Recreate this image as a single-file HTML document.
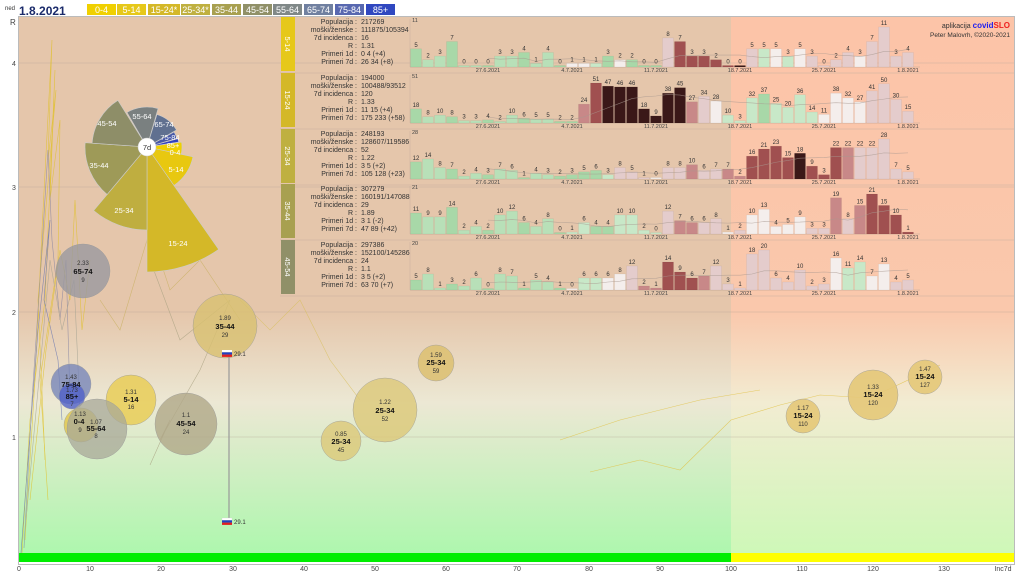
<!DOCTYPE html>
<html><head><meta charset="utf-8">
<style>
html,body{margin:0;padding:0;background:#fff;}
svg{display:block;font-family:"Liberation Sans",sans-serif;}
.lg{font-size:9px;fill:#fff;text-anchor:middle;}
.pt{font-size:7px;fill:#333;}
.bl{font-size:6px;fill:#333;text-anchor:middle;}
.dt{font-size:5.5px;fill:#444;text-anchor:middle;}
.ax{font-size:7px;fill:#444;text-anchor:middle;}
.wl{font-size:7.5px;fill:#fff;text-anchor:middle;}
.bt{font-size:6px;fill:#333;text-anchor:middle;}
.bb{font-size:7.5px;fill:#111;text-anchor:middle;font-weight:bold;}
</style></head><body>
<svg id="s" width="1024" height="576" viewBox="0 0 1024 576" xmlns="http://www.w3.org/2000/svg">
<defs>
<linearGradient id="gl" x1="0" y1="0" x2="0" y2="1">
<stop offset="0" stop-color="#e5c6ab"/><stop offset="0.55" stop-color="#e5c6ab"/>
<stop offset="0.72" stop-color="#ece8d4"/><stop offset="1" stop-color="#aef7ae"/></linearGradient>
<linearGradient id="gr" x1="0" y1="0" x2="0" y2="1">
<stop offset="0" stop-color="#fcc4a8"/><stop offset="0.55" stop-color="#fac8ac"/>
<stop offset="0.72" stop-color="#f2ecd2"/><stop offset="1" stop-color="#cef8b8"/></linearGradient>
</defs>
<rect x="0" y="0" width="1024" height="576" fill="#fff"/>
<rect x="19" y="17" width="712" height="536" fill="url(#gl)"/>
<rect x="731" y="17" width="283" height="536" fill="url(#gr)"/>
<rect x="18.5" y="16.5" width="996" height="548" fill="none" stroke="#bbb" stroke-width="1"/>
<rect x="19" y="553" width="712" height="9" fill="#00ee00"/>
<rect x="731" y="553" width="283" height="9" fill="#ffff00"/>
<g stroke="#b8a898" stroke-width="0.6" opacity="0.7">
<line x1="19" y1="437" x2="1014" y2="437"/><line x1="19" y1="312" x2="1014" y2="312"/>
<line x1="19" y1="187" x2="1014" y2="187"/><line x1="19" y1="63" x2="1014" y2="63"/>
</g>
<!-- header -->
<text x="5" y="10" font-size="6" fill="#333">ned</text>
<text x="19" y="15" font-size="12" font-weight="bold" fill="#1a2a6a">1.8.2021</text>
<g>
<rect x="87" y="4" width="29" height="11" fill="#f0d000"/><text class="lg" x="101.5" y="13">0-4</text>
<rect x="117" y="4" width="29" height="11" fill="#e6c81a"/><text class="lg" x="131.5" y="13">5-14</text>
<rect x="148" y="4" width="32" height="11" fill="#d4b828"/><text class="lg" x="164" y="13">15-24*</text>
<rect x="181" y="4" width="29" height="11" fill="#bfb040"/><text class="lg" x="195.5" y="13">25-34*</text>
<rect x="212" y="4" width="29" height="11" fill="#a8a050"/><text class="lg" x="226.5" y="13">35-44</text>
<rect x="243" y="4" width="29" height="11" fill="#909068"/><text class="lg" x="257.5" y="13">45-54</text>
<rect x="273" y="4" width="29" height="11" fill="#808888"/><text class="lg" x="287.5" y="13">55-64</text>
<rect x="304" y="4" width="29" height="11" fill="#7080a0"/><text class="lg" x="318.5" y="13">65-74</text>
<rect x="335" y="4" width="29" height="11" fill="#5868b0"/><text class="lg" x="349.5" y="13">75-84</text>
<rect x="366" y="4" width="29" height="11" fill="#3048c0"/><text class="lg" x="380.5" y="13">85+</text>
</g>
<text x="1010" y="28" font-size="7" fill="#333" text-anchor="end">aplikacija <tspan fill="#2020ee" font-weight="bold" font-size="8">covid</tspan><tspan fill="#ee2020" font-weight="bold" font-size="8">SLO</tspan></text>
<text x="1010" y="37" font-size="6.5" fill="#333" text-anchor="end">Peter Malovrh, ©2020-2021</text>
<!-- axes labels -->
<text x="10" y="25" font-size="8" fill="#444">R</text>
<text x="12" y="66" font-size="7" fill="#444">4</text>
<text x="12" y="190" font-size="7" fill="#444">3</text>
<text x="12" y="315" font-size="7" fill="#444">2</text>
<text x="12" y="440" font-size="7" fill="#444">1</text>
<g>
<text class="ax" x="19" y="571">0</text><text class="ax" x="90" y="571">10</text><text class="ax" x="161" y="571">20</text>
<text class="ax" x="233" y="571">30</text><text class="ax" x="304" y="571">40</text><text class="ax" x="375" y="571">50</text>
<text class="ax" x="446" y="571">60</text><text class="ax" x="517" y="571">70</text><text class="ax" x="589" y="571">80</text>
<text class="ax" x="660" y="571">90</text><text class="ax" x="731" y="571">100</text><text class="ax" x="802" y="571">110</text>
<text class="ax" x="873" y="571">120</text><text class="ax" x="944" y="571">130</text><text class="ax" x="1003" y="571">Inc7d</text>
</g>
<!-- trails -->
<g fill="none" stroke-width="0.6" opacity="0.75">
<polyline stroke="#e0c020" points="22,553 30,420 45,300 55,70 50,200 60,120 58,260 40,380 48,500"/>
<polyline stroke="#e0c020" points="25,540 35,380 42,230 52,40 48,160 56,90 38,300 45,460"/>
<polyline stroke="#6070b0" points="21,553 28,460 38,330 50,220 44,300 58,360 62,420"/>
<polyline stroke="#8080a0" points="24,548 32,400 40,280 48,150 52,240 60,320 66,260 70,400"/>
<polyline stroke="#a0a090" points="26,520 38,390 50,260 62,330 74,280 80,410"/>
<polyline stroke="#e0c020" points="30,500 46,350 60,250 70,300 75,200 82,330 90,260"/>
<polyline stroke="#a8a080" points="150,465 170,420 160,440 200,370 230,300 180,340 150,260"/>
<polyline stroke="#c8b060" points="240,320 200,260 170,290 150,230 120,330 100,300"/>
<polyline stroke="#d8c060" points="360,400 330,360 300,300 270,330 240,300"/>
<polyline stroke="#e0c040" points="590,472 640,460 680,470 731,420 780,405 820,395 870,398 940,365"/>
<polyline stroke="#e0c040" points="560,440 620,420 700,400 760,390"/>
</g>
<!-- panels -->
<g id="panels"></g>
<g id="ptext">
<g id="pl0"><text>5</text><text>2</text><text>3</text><text>7</text><text>0</text><text>0</text><text>0</text><text>3</text><text>3</text><text>4</text><text>1</text><text>4</text><text>0</text><text>1</text><text>1</text><text>1</text><text>3</text><text>2</text><text>2</text><text>0</text><text>0</text><text>8</text><text>7</text><text>3</text><text>3</text><text>2</text><text>0</text><text>0</text><text>5</text><text>5</text><text>5</text><text>3</text><text>5</text><text>3</text><text>0</text><text>2</text><text>4</text><text>3</text><text>7</text><text>11</text><text>3</text><text>4</text></g>
<g id="pl1"><text>18</text><text>8</text><text>10</text><text>8</text><text>3</text><text>3</text><text>4</text><text>2</text><text>10</text><text>6</text><text>5</text><text>5</text><text>2</text><text>2</text><text>24</text><text>51</text><text>47</text><text>46</text><text>46</text><text>18</text><text>9</text><text>38</text><text>45</text><text>27</text><text>34</text><text>28</text><text>10</text><text>3</text><text>32</text><text>37</text><text>25</text><text>20</text><text>36</text><text>14</text><text>11</text><text>38</text><text>32</text><text>27</text><text>41</text><text>50</text><text>30</text><text>15</text></g>
<g id="pl2"><text>12</text><text>14</text><text>8</text><text>7</text><text>2</text><text>4</text><text>3</text><text>7</text><text>6</text><text>1</text><text>4</text><text>3</text><text>2</text><text>3</text><text>5</text><text>6</text><text>3</text><text>8</text><text>5</text><text>1</text><text>0</text><text>8</text><text>8</text><text>10</text><text>6</text><text>7</text><text>7</text><text>2</text><text>16</text><text>21</text><text>23</text><text>15</text><text>18</text><text>9</text><text>3</text><text>22</text><text>22</text><text>22</text><text>22</text><text>28</text><text>7</text><text>5</text></g>
<g id="pl3"><text>11</text><text>9</text><text>9</text><text>14</text><text>2</text><text>4</text><text>2</text><text>10</text><text>12</text><text>6</text><text>4</text><text>8</text><text>0</text><text>1</text><text>6</text><text>4</text><text>4</text><text>10</text><text>10</text><text>2</text><text>0</text><text>12</text><text>7</text><text>6</text><text>6</text><text>8</text><text>1</text><text>2</text><text>10</text><text>13</text><text>4</text><text>5</text><text>9</text><text>3</text><text>3</text><text>19</text><text>8</text><text>15</text><text>21</text><text>15</text><text>10</text><text>1</text></g>
<g id="pl4"><text>5</text><text>8</text><text>1</text><text>3</text><text>2</text><text>6</text><text>0</text><text>8</text><text>7</text><text>1</text><text>5</text><text>4</text><text>1</text><text>0</text><text>6</text><text>6</text><text>6</text><text>8</text><text>12</text><text>2</text><text>1</text><text>14</text><text>9</text><text>6</text><text>7</text><text>12</text><text>3</text><text>1</text><text>18</text><text>20</text><text>6</text><text>4</text><text>10</text><text>2</text><text>3</text><text>16</text><text>11</text><text>14</text><text>7</text><text>13</text><text>4</text><text>5</text></g>
</g>
<g id="info">
<g transform="translate(0,67)">
<rect x="281" y="-50" width="14" height="54" fill="#e6c81a"/><text class="wl" transform="translate(285,-23) rotate(90)">5-14</text>
<text class="pt" x="357" y="-43" text-anchor="end">Populacija :</text><text class="pt" x="361" y="-43">217269</text>
<text class="pt" x="357" y="-35" text-anchor="end">moški/ženske :</text><text class="pt" x="361" y="-35">111875/105394</text>
<text class="pt" x="357" y="-27" text-anchor="end">7d incidenca :</text><text class="pt" x="361" y="-27">16</text>
<text class="pt" x="357" y="-19" text-anchor="end">R :</text><text class="pt" x="361" y="-19">1.31</text>
<text class="pt" x="357" y="-11" text-anchor="end">Primeri 1d :</text><text class="pt" x="361" y="-11">0 4 (+4)</text>
<text class="pt" x="357" y="-3" text-anchor="end">Primeri 7d :</text><text class="pt" x="361" y="-3">26 34 (+8)</text>
<text class="dt" x="415" y="-45" fill="#999">11</text>
</g>
<g transform="translate(0,123)">
<rect x="281" y="-50" width="14" height="54" fill="#d4b828"/><text class="wl" transform="translate(285,-23) rotate(90)">15-24</text>
<text class="pt" x="357" y="-43" text-anchor="end">Populacija :</text><text class="pt" x="361" y="-43">194000</text>
<text class="pt" x="357" y="-35" text-anchor="end">moški/ženske :</text><text class="pt" x="361" y="-35">100488/93512</text>
<text class="pt" x="357" y="-27" text-anchor="end">7d incidenca :</text><text class="pt" x="361" y="-27">120</text>
<text class="pt" x="357" y="-19" text-anchor="end">R :</text><text class="pt" x="361" y="-19">1.33</text>
<text class="pt" x="357" y="-11" text-anchor="end">Primeri 1d :</text><text class="pt" x="361" y="-11">11 15 (+4)</text>
<text class="pt" x="357" y="-3" text-anchor="end">Primeri 7d :</text><text class="pt" x="361" y="-3">175 233 (+58)</text>
<text class="dt" x="415" y="-45" fill="#999">51</text>
</g>
<g transform="translate(0,179)">
<rect x="281" y="-50" width="14" height="54" fill="#bfb040"/><text class="wl" transform="translate(285,-23) rotate(90)">25-34</text>
<text class="pt" x="357" y="-43" text-anchor="end">Populacija :</text><text class="pt" x="361" y="-43">248193</text>
<text class="pt" x="357" y="-35" text-anchor="end">moški/ženske :</text><text class="pt" x="361" y="-35">128607/119586</text>
<text class="pt" x="357" y="-27" text-anchor="end">7d incidenca :</text><text class="pt" x="361" y="-27">52</text>
<text class="pt" x="357" y="-19" text-anchor="end">R :</text><text class="pt" x="361" y="-19">1.22</text>
<text class="pt" x="357" y="-11" text-anchor="end">Primeri 1d :</text><text class="pt" x="361" y="-11">3 5 (+2)</text>
<text class="pt" x="357" y="-3" text-anchor="end">Primeri 7d :</text><text class="pt" x="361" y="-3">105 128 (+23)</text>
<text class="dt" x="415" y="-45" fill="#999">28</text>
</g>
<g transform="translate(0,234)">
<rect x="281" y="-50" width="14" height="54" fill="#a8a050"/><text class="wl" transform="translate(285,-23) rotate(90)">35-44</text>
<text class="pt" x="357" y="-43" text-anchor="end">Populacija :</text><text class="pt" x="361" y="-43">307279</text>
<text class="pt" x="357" y="-35" text-anchor="end">moški/ženske :</text><text class="pt" x="361" y="-35">160191/147088</text>
<text class="pt" x="357" y="-27" text-anchor="end">7d incidenca :</text><text class="pt" x="361" y="-27">29</text>
<text class="pt" x="357" y="-19" text-anchor="end">R :</text><text class="pt" x="361" y="-19">1.89</text>
<text class="pt" x="357" y="-11" text-anchor="end">Primeri 1d :</text><text class="pt" x="361" y="-11">3 1 (-2)</text>
<text class="pt" x="357" y="-3" text-anchor="end">Primeri 7d :</text><text class="pt" x="361" y="-3">47 89 (+42)</text>
<text class="dt" x="415" y="-45" fill="#999">21</text>
</g>
<g transform="translate(0,290)">
<rect x="281" y="-50" width="14" height="54" fill="#909068"/><text class="wl" transform="translate(285,-23) rotate(90)">45-54</text>
<text class="pt" x="357" y="-43" text-anchor="end">Populacija :</text><text class="pt" x="361" y="-43">297386</text>
<text class="pt" x="357" y="-35" text-anchor="end">moški/ženske :</text><text class="pt" x="361" y="-35">152100/145286</text>
<text class="pt" x="357" y="-27" text-anchor="end">7d incidenca :</text><text class="pt" x="361" y="-27">24</text>
<text class="pt" x="357" y="-19" text-anchor="end">R :</text><text class="pt" x="361" y="-19">1.1</text>
<text class="pt" x="357" y="-11" text-anchor="end">Primeri 1d :</text><text class="pt" x="361" y="-11">3 5 (+2)</text>
<text class="pt" x="357" y="-3" text-anchor="end">Primeri 7d :</text><text class="pt" x="361" y="-3">63 70 (+7)</text>
<text class="dt" x="415" y="-45" fill="#999">20</text>
</g>
</g>
<g id="dates">
<g transform="translate(0,72)"><text class="dt" x="488">27.6.2021</text><text class="dt" x="572">4.7.2021</text><text class="dt" x="656">11.7.2021</text><text class="dt" x="740">18.7.2021</text><text class="dt" x="824">25.7.2021</text><text class="dt" x="908">1.8.2021</text></g>
<g transform="translate(0,128)"><text class="dt" x="488">27.6.2021</text><text class="dt" x="572">4.7.2021</text><text class="dt" x="656">11.7.2021</text><text class="dt" x="740">18.7.2021</text><text class="dt" x="824">25.7.2021</text><text class="dt" x="908">1.8.2021</text></g>
<g transform="translate(0,184)"><text class="dt" x="488">27.6.2021</text><text class="dt" x="572">4.7.2021</text><text class="dt" x="656">11.7.2021</text><text class="dt" x="740">18.7.2021</text><text class="dt" x="824">25.7.2021</text><text class="dt" x="908">1.8.2021</text></g>
<g transform="translate(0,239)"><text class="dt" x="488">27.6.2021</text><text class="dt" x="572">4.7.2021</text><text class="dt" x="656">11.7.2021</text><text class="dt" x="740">18.7.2021</text><text class="dt" x="824">25.7.2021</text><text class="dt" x="908">1.8.2021</text></g>
<g transform="translate(0,295)"><text class="dt" x="488">27.6.2021</text><text class="dt" x="572">4.7.2021</text><text class="dt" x="656">11.7.2021</text><text class="dt" x="740">18.7.2021</text><text class="dt" x="824">25.7.2021</text><text class="dt" x="908">1.8.2021</text></g>
</g>
<!-- pie -->
<g id="pie"></g>
<g class="wl">
<text x="107" y="126">45-54</text><text x="142" y="119">55-64</text><text x="164" y="127">65-74</text>
<text x="170" y="140">75-84</text><text x="173" y="148">85+</text><text x="175" y="155">0-4</text>
<text x="176" y="172">5-14</text><text x="178" y="246">15-24</text><text x="124" y="213">25-34</text><text x="99" y="168">35-44</text>
</g>
<circle cx="147" cy="147" r="9" fill="#fff" stroke="#ccc" stroke-width="0.5"/>
<text x="147" y="150" font-size="7.5" fill="#333" text-anchor="middle">7d</text>
<!-- bubbles -->
<g stroke="#999" stroke-width="0.4">
<circle cx="83" cy="271" r="27" fill="#9a98a0" fill-opacity="0.8"/>
<circle cx="71" cy="384" r="20" fill="#7080b8" fill-opacity="0.75"/>
<circle cx="72" cy="396" r="13" fill="#5060c8" fill-opacity="0.8"/>
<circle cx="131" cy="400" r="25" fill="#e8cc50" fill-opacity="0.8"/>
<circle cx="81" cy="425" r="17" fill="#e0c850" fill-opacity="0.85"/>
<circle cx="97" cy="429" r="30" fill="#a8a898" fill-opacity="0.75"/>
<circle cx="186" cy="424" r="31" fill="#b0a888" fill-opacity="0.8"/>
<circle cx="225" cy="326" r="32" fill="#d8c070" fill-opacity="0.8"/>
<circle cx="341" cy="441" r="20" fill="#dcc878" fill-opacity="0.8"/>
<circle cx="385" cy="410" r="32" fill="#dcc878" fill-opacity="0.8"/>
<circle cx="436" cy="363" r="18" fill="#dcc070" fill-opacity="0.85"/>
<circle cx="803" cy="416" r="17" fill="#e4c878" fill-opacity="0.9"/>
<circle cx="873" cy="395" r="25" fill="#e4c878" fill-opacity="0.9"/>
<circle cx="925" cy="377" r="17" fill="#e4c878" fill-opacity="0.9"/>
</g>
<g>
<text class="bt" x="83" y="265">2.33</text><text class="bb" x="83" y="274">65-74</text><text class="bt" x="83" y="282">9</text>
<text class="bt" x="71" y="379">1.43</text><text class="bb" x="71" y="387">75-84</text>
<text class="bt" x="72" y="392">1.73</text><text class="bb" x="72" y="399">85+</text><text class="bt" x="72" y="406">7</text>
<text class="bt" x="131" y="394">1.31</text><text class="bb" x="131" y="402">5-14</text><text class="bt" x="131" y="409">16</text>
<text class="bt" x="80" y="416">1.13</text><text class="bb" x="79" y="424">0-4</text><text class="bt" x="80" y="432">9</text>
<text class="bt" x="96" y="424">1.07</text><text class="bb" x="96" y="431">55-64</text><text class="bt" x="96" y="438">8</text>
<text class="bt" x="186" y="417">1.1</text><text class="bb" x="186" y="426">45-54</text><text class="bt" x="186" y="434">24</text>
<text class="bt" x="225" y="320">1.89</text><text class="bb" x="225" y="329">35-44</text><text class="bt" x="225" y="337">29</text>
<text class="bt" x="341" y="436">0.85</text><text class="bb" x="341" y="444">25-34</text><text class="bt" x="341" y="452">45</text>
<text class="bt" x="385" y="404">1.22</text><text class="bb" x="385" y="413">25-34</text><text class="bt" x="385" y="421">52</text>
<text class="bt" x="436" y="357">1.59</text><text class="bb" x="436" y="365">25-34</text><text class="bt" x="436" y="373">59</text>
<text class="bt" x="803" y="410">1.17</text><text class="bb" x="803" y="418">15-24</text><text class="bt" x="803" y="426">110</text>
<text class="bt" x="873" y="389">1.33</text><text class="bb" x="873" y="397">15-24</text><text class="bt" x="873" y="405">120</text>
<text class="bt" x="925" y="371">1.47</text><text class="bb" x="925" y="379">15-24</text><text class="bt" x="925" y="387">127</text>
</g>
<!-- Slovenia marker -->
<line x1="229" y1="353" x2="229" y2="521" stroke="#999" stroke-width="1.2"/>
<g><rect x="222" y="350" width="10" height="2.3" fill="#fff"/><rect x="222" y="352.3" width="10" height="2.3" fill="#2040c0"/><rect x="222" y="354.6" width="10" height="2.3" fill="#e02020"/>
<text x="234" y="356" font-size="6" fill="#333">29.1</text></g>
<g><rect x="222" y="518" width="10" height="2.3" fill="#fff" stroke="#ccc" stroke-width="0.3"/><rect x="222" y="520.3" width="10" height="2.3" fill="#2040c0"/><rect x="222" y="522.6" width="10" height="2.3" fill="#e02020"/>
<text x="234" y="524" font-size="6" fill="#333">29.1</text></g>
</svg>
<script>
(function(){
var NS="http://www.w3.org/2000/svg";
function el(t,a,p){var e=document.createElementNS(NS,t);for(var k in a)e.setAttribute(k,a[k]);p.appendChild(e);return e;}
var maxes=[11,51,28,21,20], bases=[67,123,179,234,290];
var pg=document.getElementById('panels');
for(var p=0;p<5;p++){
 var b=bases[p];
 el('line',{x1:280,y1:b+6,x2:1014,y2:b+6,stroke:'#c8b0a0','stroke-width':0.5},pg);
 el('line',{x1:410,y1:b,x2:920,y2:b,stroke:'#c0a898','stroke-width':0.5},pg);
 el('line',{x1:410,y1:b-48,x2:410,y2:b,stroke:'#c8b0a0','stroke-width':0.5},pg);
 var ts=document.getElementById('pl'+p).getElementsByTagName('text');
 var vals=[];for(var i=0;i<ts.length;i++)vals.push(+ts[i].textContent);
 var sc=40/maxes[p], pts=[];
 for(var i=0;i<vals.length;i++){
  var v=vals[i],h=Math.max(v*sc,v>0?0:1.5),x=410+12*i;
  var c;
  if(i<13){c=(i%3==0)?'#a8d8a8':'#b8e0b8';}
  else{var s1=0,s0=0;for(var j=i-6;j<=i;j++)s1+=vals[j];for(var j=i-13;j<=i-7;j++)s0+=vals[j];
   var r=s0==0?2:s1/s0;
   c=r<0.7?'#a8d8a8':r<0.9?'#c8e8c8':r<1.1?'#f4eeec':r<1.4?'#e4cccc':r<1.8?'#c88888':r<2.5?'#a05050':'#3a1818';}
  el('rect',{x:x+0.5,y:b-h,width:11,height:h,fill:c,stroke:'rgba(0,0,0,0.08)','stroke-width':0.5},pg);
  ts[i].setAttribute('x',x+6);ts[i].setAttribute('y',b-h-2);ts[i].setAttribute('class','bl');
  if(i>=6){var s=0;for(var j=i-6;j<=i;j++)s+=vals[j];pts.push((x+6)+','+(b-s/7*sc));}
 }
 el('polyline',{points:pts.join(' '),fill:'none',stroke:'#a89890','stroke-width':0.6,opacity:0.7},pg);
}
var pie=document.getElementById('pie'),cx=147,cy=147;
var w=[[352,372,35,'#f0d000'],[12,55,47,'#e8c810'],[55,90,125,'#d4b828'],[90,130,83,'#bfae40'],[130,184,62,'#9e9a58'],[184,238,55,'#8e8e68'],[240,286,40,'#7a8080'],[287,330,34,'#607090'],[331,344,31,'#4858a8'],[345,351,32,'#3040c0']];
w.forEach(function(d){var a1=d[0]*Math.PI/180,a2=d[1]*Math.PI/180,r=d[2];
 var path='M'+cx+','+cy+' L'+(cx+r*Math.cos(a1))+','+(cy+r*Math.sin(a1))+' A'+r+','+r+' 0 0 1 '+(cx+r*Math.cos(a2))+','+(cy+r*Math.sin(a2))+' Z';
 el('path',{d:path,fill:d[3],stroke:'#ccc','stroke-width':0.6},pie);});
})();
</script>
</body></html>
